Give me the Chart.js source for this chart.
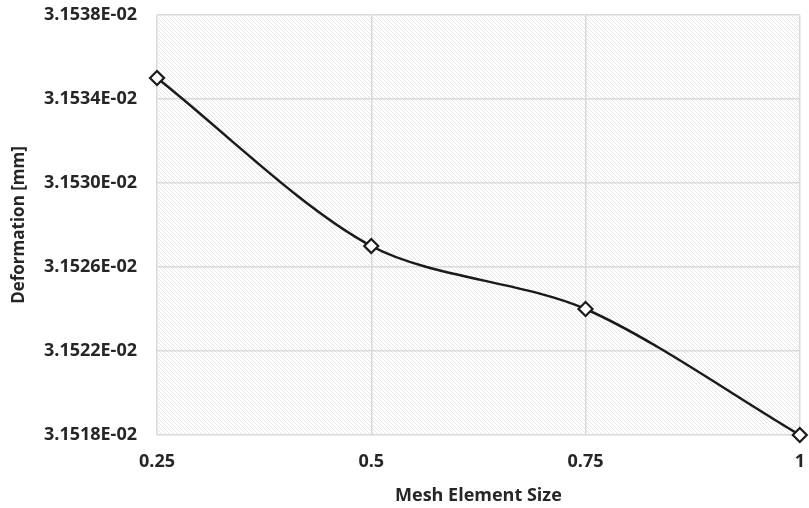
<!DOCTYPE html>
<html>
<head>
<meta charset="utf-8">
<script src="https://cdn.jsdelivr.net/npm/chart.js@4/dist/chart.umd.min.js"></script>
<style>
  html, body { margin: 0; padding: 0; background: #fff; }
  #wrap { width: 809px; height: 508px; }
</style>
</head>
<body>
<div id="wrap"><canvas id="chart" width="809" height="508"></canvas></div>
<script>
// mesh sizes and the deformation
const meshSizes = [0.25, 0.5, 0.75, 1];
const deformation = [0.031535, 0.031527, 0.031524, 0.031518];
const yTicks = [0.031518, 0.031522, 0.031526, 0.031530, 0.031534, 0.031538];

const FONT = '"Open Sans", Lato, sans-serif';

// diagonal hatch fill for the plot area
function makeHatch(ctx) {
  const c = document.createElement('canvas');
  c.width = 4; c.height = 4;
  const g = c.getContext('2d');
  g.fillStyle = '#ffffff';
  g.fillRect(0, 0, 4, 4);
  g.strokeStyle = '#e6e6e6';
  g.lineWidth = 1;
  g.beginPath();
  g.moveTo(-1, -1); g.lineTo(5, 5);
  g.moveTo(-1, 3); g.lineTo(1, 5);
  g.moveTo(3, -1); g.lineTo(5, 1);
  g.stroke();
  return ctx.createPattern(c, 'repeat');
}

const hatchPlugin = {
  id: 'hatch',
  beforeDraw(chart) {
    const { ctx, chartArea: a } = chart;
    ctx.save();
    ctx.fillStyle = makeHatch(ctx);
    ctx.fillRect(a.left, a.top, a.right - a.left, a.bottom - a.top);
    ctx.restore();
  }
};

new Chart(document.getElementById('chart'), {
  type: 'line',
  data: {
    datasets: [{
      data: meshSizes.map((x, i) => ({ x: x, y: deformation[i] })),
      borderColor: '#1a1a1a',
      borderWidth: 2.5,
      tension: 0.3,
      pointStyle: 'rectRot',
      pointRadius: 7,
      pointBorderWidth: 2.2,
      pointBackgroundColor: '#ffffff',
      pointBorderColor: '#1a1a1a',
      clip: false
    }]
  },
  options: {
    responsive: false,
    animation: false,
    layout: { padding: { top: 15, right: 7 } },
    plugins: { legend: { display: false }, tooltip: { enabled: false } },
    scales: {
      x: {
        type: 'linear',
        min: 0.25,
        max: 1,
        afterBuildTicks(scale) { scale.ticks = meshSizes.map(v => ({ value: v })); },
        afterFit(scale) { scale.height = 73; },
        grid: { color: '#d9d9d9', lineWidth: 1.5, drawTicks: true, tickLength: 16, tickColor: 'rgba(0,0,0,0)' },
        border: { display: false },
        ticks: {
          padding: 0,
          color: '#262626',
          font: { family: FONT, size: 18, weight: 'bold' },
          callback: v => String(v)
        },
        title: {
          display: true,
          text: 'Mesh Element Size',
          color: '#262626',
          font: { family: FONT, size: 18, weight: 'bold' },
          padding: { top: 0, bottom: 1 }
        }
      },
      y: {
        min: 0.031518,
        max: 0.031538,
        afterBuildTicks(scale) { scale.ticks = yTicks.map(v => ({ value: v })); },
        afterFit(scale) { scale.width = 157; },
        grid: { color: '#d9d9d9', lineWidth: 1.5, drawTicks: true, tickLength: 20, tickColor: 'rgba(0,0,0,0)' },
        border: { display: false },
        ticks: {
          padding: 0,
          color: '#262626',
          font: { family: FONT, size: 18, weight: 'bold' },
          callback: v => (v * 100).toFixed(4) + 'E-02'
        },
        title: {
          display: true,
          text: 'Deformation [mm]',
          color: '#262626',
          font: { family: FONT, size: 17, weight: 'bold' },
          padding: { top: 9, bottom: 0 }
        }
      }
    }
  },
  plugins: [hatchPlugin]
});
</script>
</body>
</html>
